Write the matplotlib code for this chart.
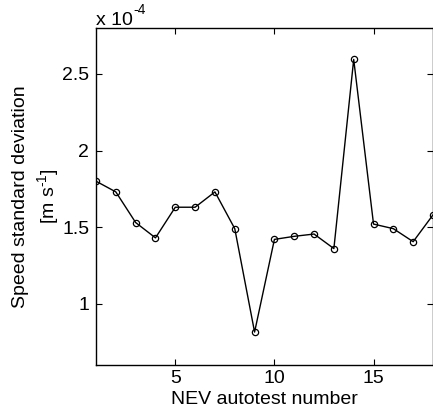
import matplotlib
matplotlib.use("Agg")
import matplotlib.pyplot as plt

plt.rcParams['font.family'] = ['Liberation Sans', 'DejaVu Sans']
plt.rcParams['mathtext.fontset'] = 'custom'
plt.rcParams['mathtext.rm'] = 'Liberation Sans'

tests = list(range(1, 19))
speed_std = [1.80, 1.73, 1.53, 1.43, 1.63, 1.63, 1.73, 1.49, 0.815, 1.42,
             1.44, 1.455, 1.36, 2.595, 1.52, 1.49, 1.405, 1.58]
xticks = [5, 10, 15]
yticks = [1.0, 1.5, 2.0, 2.5]
ytick_labels = ['1', '1.5', '2', '2.5']

fig = plt.figure(figsize=(4.33, 4.13), dpi=100)
ax = fig.add_axes([96/433, 48/413, 337/433, 337/413])
ax.plot(tests, speed_std, '-', color='black', lw=1.0,
        marker='o', mfc='none', mec='black', ms=4.5, mew=0.9)
ax.set_xlim(1, 18)
ax.set_ylim(0.6, 2.8)
ax.set_xticks(xticks)
ax.set_yticks(yticks)
ax.set_yticklabels(ytick_labels)
ax.tick_params(direction='in', length=4, width=0.8, top=True, right=True,
               labelsize=14)
ax.tick_params(axis='x', pad=3.5)
ax.tick_params(axis='y', pad=4.8)
for s in ax.spines.values():
    s.set_linewidth(1.0)

fig.text(96/433, 1 - 25/413, 'x 10', fontsize=14, ha='left', va='baseline')
fig.text(133/433, 1 - 14/413, '-4', fontsize=10, ha='left', va='baseline')
ax.set_xlabel('NEV autotest number', fontsize=14, labelpad=3)
ax.set_ylabel('Speed standard deviation\n[m s$^{\\text{-}1}$]', fontsize=14,
              labelpad=0, linespacing=1.35)

fig.savefig('out.png', dpi=100)
